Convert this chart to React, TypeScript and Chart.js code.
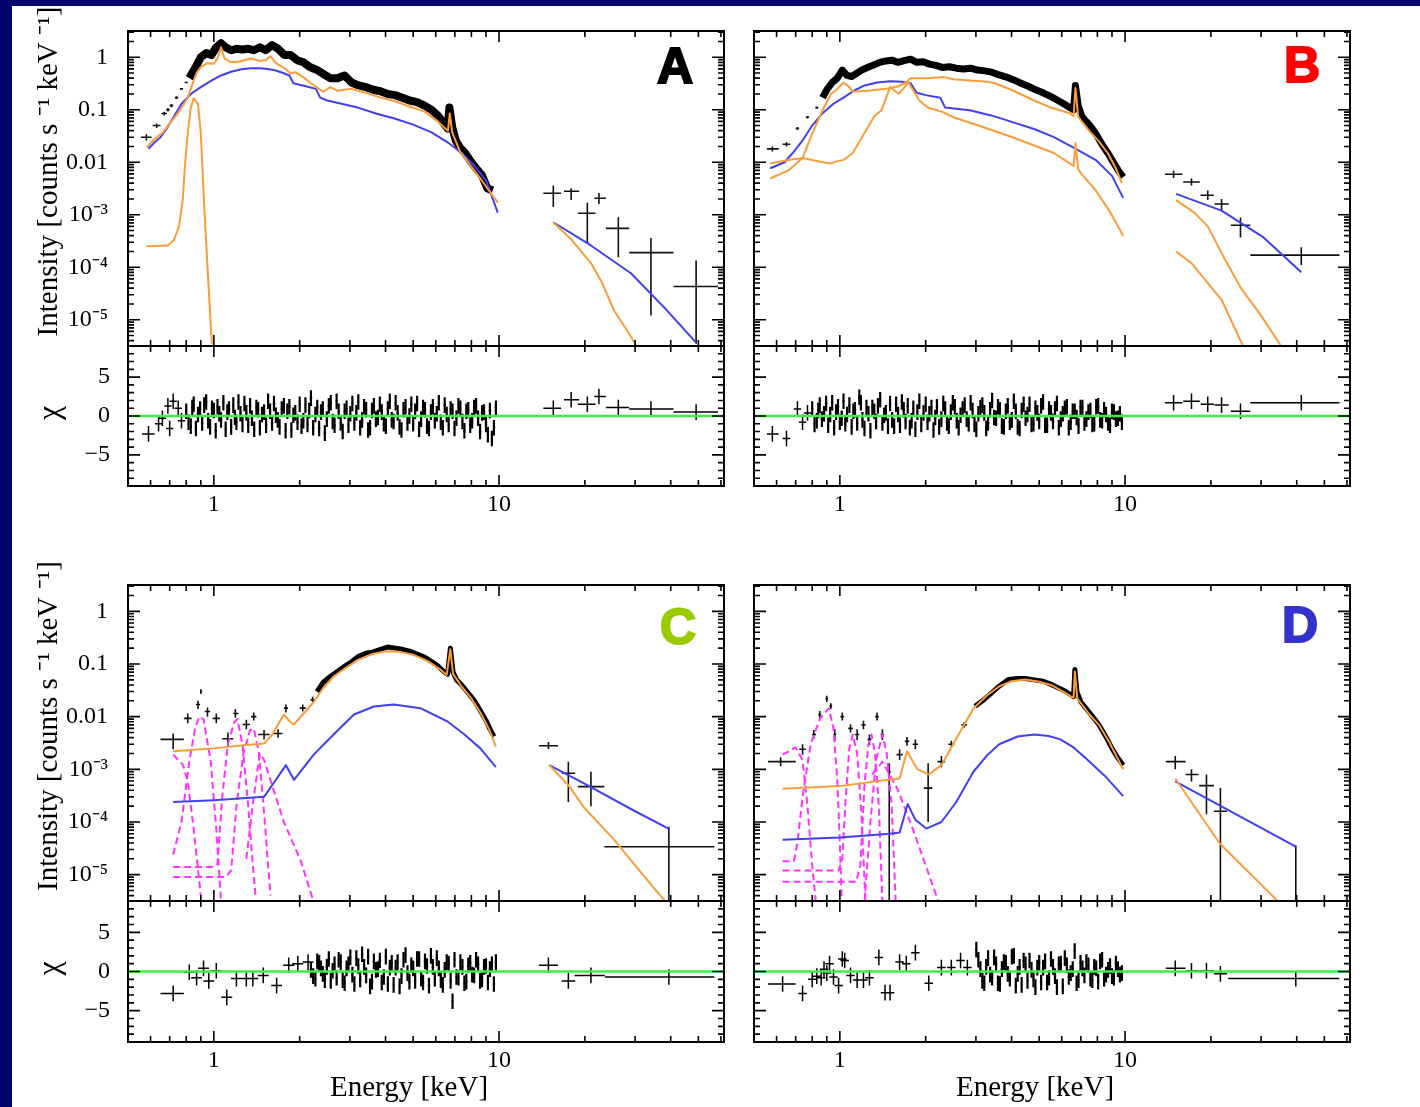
import React, { useEffect, useRef } from "react";
import { Chart, registerables } from "chart.js";
Chart.register(...registerables);

type P = [number, number];

// ---------------- axis definitions ----------------
const X_MIN = 0.5;
const X_MAX = 61.5;
const Y_SPEC_MIN = 3.1623e-6;
const Y_SPEC_MAX = 3.1623;
const Y_RES_MIN = -9;
const Y_RES_MAX = 9;
const X_TICK_VALUES = [1, 10];
const X_TICK_LABELS = ["1", "10"];
const X_MINOR_TICKS = [0.6, 0.7, 0.8, 0.9, 2, 3, 4, 5, 6, 7, 8, 9, 20, 30, 40, 50, 60];
const Y_SPEC_TICK_VALUES = [1, 0.1, 0.01, 1e-3, 1e-4, 1e-5];
const Y_SPEC_TICK_LABELS = ["1", "0.1", "0.01", "10\u207B\u00B3", "10\u207B\u2074", "10\u207B\u2075"];
const Y_RES_TICK_VALUES = [5, 0, -5];
const Y_RES_TICK_LABELS = ["5", "0", "\u22125"];
const Y_TITLE = "Intensity [counts s \u207B\u00B9 keV \u207B\u00B9]";
const X_TITLE = "Energy [keV]";
const ZERO_LINE: P[] = [[0.5, 0], [61.5, 0]];

// energy grids of the densely binned residuals (bin centres)
const DENSE_E = [
  0.80, 0.83, 0.85, 0.88, 0.91, 0.94, 0.97, 1.00, 1.03, 1.06,
  1.10, 1.13, 1.17, 1.20, 1.24, 1.28, 1.32, 1.36, 1.41, 1.45,
  1.50, 1.55, 1.60, 1.65, 1.70, 1.76, 1.81, 1.87, 1.93, 2.00,
  2.06, 2.13, 2.19, 2.27, 2.34, 2.41, 2.49, 2.57, 2.65, 2.74,
  2.83, 2.92, 3.01, 3.11, 3.21, 3.31, 3.42, 3.53, 3.64, 3.76,
  3.88, 4.01, 4.14, 4.27, 4.41, 4.55, 4.70, 4.85, 5.00, 5.16,
  5.33, 5.50, 5.68, 5.86, 6.05, 6.25, 6.45, 6.66, 6.87, 7.09,
  7.32, 7.56, 7.80, 8.05, 8.31, 8.58, 8.86, 9.14, 9.44, 9.75,
];
const DENSE_E_MID = [
  0.815, 0.84, 0.865, 0.895, 0.925, 0.955, 0.985, 1.015, 1.045, 1.08,
  1.115, 1.15, 1.185, 1.22, 1.26, 1.30, 1.34, 1.385, 1.43, 1.475,
  1.525, 1.575, 1.625, 1.675, 1.73, 1.785, 1.84, 1.90, 1.965, 2.03,
  2.095, 2.16, 2.23, 2.305, 2.375, 2.45, 2.53, 2.61, 2.695, 2.785,
  2.875, 2.965, 3.06, 3.16, 3.26, 3.365, 3.475, 3.585, 3.70, 3.82,
  3.945, 4.075, 4.205, 4.34, 4.48, 4.625, 4.775, 4.925, 5.08, 5.245,
  5.415, 5.59, 5.77, 5.955, 6.15, 6.35, 6.555, 6.765, 6.98, 7.205,
  7.44, 7.68, 7.925, 8.18, 8.445, 8.72, 9.0, 9.29, 9.595,
];

// ================= PANEL A =================
const A_SPEC: P[] = [
  [0.82, 0.40], [0.86, 0.62], [0.90, 1.0], [0.94, 1.2], [0.98, 1.1], [1.02, 1.55], [1.06, 1.85], [1.10, 1.55], [1.15, 1.36], [1.20, 1.45],
  [1.26, 1.40], [1.32, 1.45], [1.38, 1.36], [1.45, 1.55], [1.52, 1.36], [1.60, 1.70], [1.68, 1.45], [1.77, 1.10], [1.86, 1.10], [1.96, 0.88],
  [2.06, 0.80], [2.17, 0.65], [2.29, 0.58], [2.42, 0.48], [2.56, 0.40], [2.71, 0.40], [2.87, 0.45], [3.04, 0.33], [3.22, 0.29], [3.41, 0.27],
  [3.62, 0.24], [3.84, 0.225], [4.07, 0.20], [4.32, 0.19], [4.58, 0.17], [4.86, 0.15], [5.16, 0.14], [5.48, 0.12], [5.82, 0.098], [6.10, 0.078],
  [6.40, 0.055], [6.60, 0.044], [6.70, 0.11], [6.85, 0.047], [7.05, 0.026], [7.30, 0.019], [7.60, 0.015], [7.90, 0.011], [8.30, 0.0077], [8.70, 0.0057],
  [9.10, 0.0032], [9.50, 0.0029],
];
const A_LOW_PTS = [
  [0.58, 0.030, 0.555, 0.605, 0.026, 0.034],
  [0.63, 0.050, 0.61, 0.65, 0.045, 0.055],
  [0.67, 0.085, 0.655, 0.685, 0.078, 0.092],
  [0.69, 0.10, 0.68, 0.70, 0.093, 0.108],
  [0.71, 0.12, 0.70, 0.72, 0.112, 0.128],
  [0.74, 0.17, 0.73, 0.75, 0.16, 0.18],
  [0.77, 0.25, 0.76, 0.78, 0.24, 0.26],
  [0.80, 0.33, 0.79, 0.81, 0.32, 0.34],
];
const A_HARD_PTS = [
  [15.5, 2.57e-3, 14.3, 16.5, 1.4e-3, 3.6e-3],
  [17.9, 2.8e-3, 16.9, 19.1, 1.9e-3, 3.2e-3],
  [20.4, 1.07e-3, 18.9, 21.8, 2.9e-4, 1.7e-3],
  [22.4, 2.06e-3, 21.6, 23.7, 1.6e-3, 2.6e-3],
  [26.2, 5.5e-4, 23.7, 28.6, 1.55e-4, 9e-4],
  [34.1, 1.9e-4, 28.6, 40.9, 1.2e-5, 3.6e-4],
  [49.1, 4.3e-5, 40.9, 58.6, 3.5e-6, 1.35e-4],
];
const A_ORANGE: P[] = [
  [0.58, 0.019], [0.62, 0.028], [0.66, 0.036], [0.70, 0.055], [0.74, 0.079], [0.78, 0.12], [0.81, 0.17], [0.84, 0.30], [0.87, 0.50], [0.90, 0.65],
  [0.95, 0.77], [1.00, 0.75], [1.03, 0.95], [1.06, 1.55], [1.09, 0.95], [1.14, 0.82], [1.20, 0.80], [1.28, 0.88], [1.35, 0.95], [1.45, 0.85],
  [1.52, 0.88], [1.58, 1.05], [1.64, 0.80], [1.70, 0.70], [1.77, 0.62], [1.86, 0.49], [1.93, 0.52], [2.00, 0.46], [2.08, 0.40], [2.17, 0.33],
  [2.29, 0.27], [2.42, 0.22], [2.56, 0.27], [2.71, 0.23], [2.87, 0.24], [3.04, 0.25], [3.41, 0.21], [3.84, 0.17], [4.32, 0.145], [4.86, 0.115],
  [5.48, 0.092], [6.10, 0.060], [6.50, 0.043], [6.62, 0.040], [6.72, 0.085], [6.85, 0.037], [7.30, 0.016], [7.90, 0.009], [8.70, 0.0045], [9.50, 0.0023],
  [9.90, 0.0017],
];
const A_ORANGE_LINE: P[] = [
  [0.58, 2.5e-4], [0.69, 2.6e-4], [0.724, 3.3e-4], [0.754, 5.8e-4], [0.778, 1.9e-3], [0.791, 8e-3], [0.81, 0.036], [0.83, 0.11], [0.85, 0.165],
  [0.88, 0.13], [0.90, 0.036], [0.923, 1.9e-3], [0.95, 1e-4], [0.984, 3.5e-6],
];
const A_ORANGE_HARD: P[] = [[15.5, 7.2e-4], [18, 3.3e-4], [21, 1.2e-4], [23, 5e-5], [25.3, 1.5e-5], [28, 6.5e-6], [30.3, 3.2e-6]];
const A_BLUE: P[] = [
  [0.59, 0.018], [0.62, 0.024], [0.65, 0.030], [0.68, 0.042], [0.71, 0.062], [0.77, 0.13], [0.84, 0.21], [0.90, 0.27], [0.98, 0.36], [1.06, 0.45],
  [1.15, 0.53], [1.25, 0.59], [1.35, 0.62], [1.45, 0.62], [1.55, 0.60], [1.65, 0.56], [1.75, 0.50], [1.84, 0.45], [1.90, 0.32], [2.10, 0.28],
  [2.28, 0.25], [2.36, 0.17], [2.50, 0.15], [2.80, 0.13], [3.20, 0.11], [3.70, 0.085], [4.30, 0.068], [5.00, 0.052], [5.80, 0.037], [6.60, 0.024],
  [7.40, 0.015], [8.20, 0.0085], [9.00, 0.0045], [9.90, 0.0011],
];
const A_BLUE_HARD: P[] = [[15.5, 7.2e-4], [21, 2.6e-4], [29, 7.7e-5], [38, 1.7e-5], [49, 3.7e-6]];
const A_RES_LOW = [[0.59, -2.3, 0.56, 0.62], [0.64, -1.0], [0.66, -0.3], [0.69, 1.3], [0.70, -1.6], [0.72, 1.9], [0.75, 1.0], [0.77, -0.6]];
const A_RES_DENSE = [
  0.6, -1.3, 1.5, 0.2, -0.9, 1.8, -1.4, 0.7, 1.2, -0.5,
  -1.7, 0.9, 1.4, -0.8, 0.3, 1.6, -1.2, -0.3, 1.1, -1.5,
  0.5, 1.9, -0.9, 0.1, -1.4, 1.3, 0.6, -1.8, 0.4, 1.5,
  -0.6, -1.1, 2.3, 0.2, -1.6, 0.9, -0.4, 1.7, -1.2, 0.6,
  -2.0, 1.0, 0.3, -0.9, 1.8, -0.5, 0.8, -1.5, 1.3, -0.2,
  0.5, -1.3, 1.9, -0.7, 0.4, -1.8, 1.2, 0.0, -1.0, 1.6,
  -0.4, 0.8, -1.6, 1.2, 0.3, -0.8, 1.4, -1.1, 0.6, -0.3,
  1.0, -1.9, 0.8, -0.6, 1.3, -2.0, 0.5, -2.4, -2.9, 1.0,
];
const A_RES_MID = [
  -0.8, 1.1, -1.6, 0.9, 1.4, -0.6, 1.0, -1.9, 0.3, 1.7,
  0.5, -1.4, -0.2, 1.8, -1.1, 0.4, 1.3, -1.7, 0.8, 0.2,
  -1.2, 0.6, 1.6, -0.5, 0.9, -1.9, 1.2, 0.1, -0.8, -1.3,
  1.4, 0.7, -1.5, 1.1, 0.5, -2.2, 1.3, -0.7, 1.9, -0.9,
  0.6, -1.2, 1.6, 0.4, -1.5, 1.2, -1.8, 0.7, -0.4, 1.5,
  -1.0, 0.9, -0.5, 1.7, -1.4, 0.8, -0.9, 1.5, 0.6, -1.7,
  1.1, -1.3, 0.5, -0.6, 1.7, -1.5, 0.2, 0.9, -1.6, 1.3,
  -0.7, 0.6, -1.2, 1.1, -0.3, 0.4, -1.1, 0.7, -1.5,
];
const A_RES_HARD = [[15.5, 1.0, 14.3, 16.5], [17.9, 2.1, 16.9, 19.1], [20.4, 1.5, 18.9, 21.8], [22.4, 2.5, 21.6, 23.7], [26.2, 1.1, 23.7, 28.6], [34.1, 0.9, 28.6, 40.9], [49.1, 0.5, 40.9, 58.6]];

// ================= PANEL B =================
const B_SPEC: P[] = [
  [0.87, 0.17], [0.90, 0.24], [0.94, 0.33], [0.98, 0.40], [1.02, 0.57], [1.06, 0.45], [1.10, 0.43], [1.15, 0.50], [1.20, 0.58], [1.26, 0.65],
  [1.32, 0.72], [1.38, 0.80], [1.45, 0.85], [1.52, 0.88], [1.60, 0.80], [1.68, 0.86], [1.77, 0.92], [1.86, 0.80], [1.96, 0.82], [2.06, 0.74],
  [2.17, 0.70], [2.29, 0.64], [2.42, 0.66], [2.56, 0.62], [2.71, 0.60], [2.87, 0.62], [3.04, 0.57], [3.22, 0.55], [3.41, 0.52], [3.62, 0.46],
  [3.84, 0.42], [4.07, 0.37], [4.32, 0.32], [4.58, 0.28], [4.86, 0.24], [5.16, 0.21], [5.48, 0.18], [5.82, 0.15], [6.10, 0.13], [6.40, 0.11],
  [6.60, 0.10], [6.70, 0.29], [6.85, 0.12], [7.05, 0.075], [7.30, 0.060], [7.60, 0.047], [7.90, 0.035], [8.30, 0.022], [8.70, 0.015], [9.10, 0.010],
  [9.50, 0.0068], [9.85, 0.0052],
];
const B_LOW_PTS = [
  [0.58, 0.018, 0.555, 0.61, 0.016, 0.020],
  [0.65, 0.022, 0.63, 0.67, 0.020, 0.024],
  [0.71, 0.044, 0.70, 0.72, 0.041, 0.047],
  [0.77, 0.072, 0.76, 0.78, 0.068, 0.076],
  [0.83, 0.11, 0.82, 0.84, 0.105, 0.115],
];
const B_HARD_PTS = [
  [14.8, 5.9e-3, 13.8, 15.9, 5.0e-3, 7.0e-3],
  [17.1, 4.2e-3, 16.0, 18.3, 3.6e-3, 4.9e-3],
  [19.5, 2.35e-3, 18.4, 20.5, 1.9e-3, 2.9e-3],
  [21.8, 1.6e-3, 20.6, 23.1, 1.2e-3, 2.0e-3],
  [25.4, 6.3e-4, 23.5, 27.5, 3.7e-4, 8.9e-4],
  [41.5, 1.7e-4, 27.5, 56.5, 1.1e-4, 2.4e-4],
];
const B_BLUE: P[] = [
  [0.57, 7.7e-3], [0.64, 0.010], [0.69, 0.016], [0.74, 0.026], [0.80, 0.05], [0.87, 0.086], [0.95, 0.13], [1.03, 0.17], [1.12, 0.23], [1.22, 0.29],
  [1.35, 0.33], [1.50, 0.35], [1.65, 0.34], [1.77, 0.32], [1.86, 0.21], [2.00, 0.19], [2.25, 0.17], [2.34, 0.11], [2.85, 0.098], [3.40, 0.078],
  [4.03, 0.058], [4.80, 0.043], [5.63, 0.030], [6.60, 0.019], [7.90, 0.011], [9.00, 0.0055], [9.85, 2.1e-3],
];
const B_BLUE_HARD: P[] = [[15.1, 2.5e-3], [21.8, 1.2e-3], [30.6, 3.7e-4], [41.5, 8e-5]];
const B_ORANGE_1: P[] = [
  [0.57, 4.9e-3], [0.66, 7e-3], [0.74, 0.012], [0.80, 0.035], [0.87, 0.098], [0.93, 0.20], [0.97, 0.235], [1.03, 0.33], [1.08, 0.27], [1.11, 0.22],
  [1.25, 0.23], [1.45, 0.25], [1.60, 0.28], [1.71, 0.33], [1.77, 0.40], [2.03, 0.40], [2.30, 0.42], [2.50, 0.38], [2.85, 0.36], [3.30, 0.34],
  [3.50, 0.32], [4.03, 0.235], [4.80, 0.15], [5.50, 0.11], [6.40, 0.086], [6.60, 0.075], [6.70, 0.26], [6.85, 0.075], [7.00, 0.063], [7.60, 0.036],
  [8.10, 0.025], [8.70, 0.015], [9.30, 0.0075], [9.75, 4e-3],
];
const B_ORANGE_1_HARD: P[] = [[15.1, 1.9e-3], [17.5, 1.1e-3], [19.5, 6e-4], [22, 1.7e-4], [25.5, 4e-5], [30, 1.2e-5], [35.2, 3.2e-6]];
const B_ORANGE_2: P[] = [
  [0.57, 9.5e-3], [0.66, 0.011], [0.74, 0.012], [0.80, 0.011], [0.87, 0.010], [0.93, 0.0095], [0.98, 0.0105], [1.03, 0.011], [1.11, 0.015], [1.22, 0.036],
  [1.32, 0.075], [1.40, 0.098], [1.50, 0.27], [1.61, 0.20], [1.74, 0.33], [1.84, 0.20], [1.90, 0.15], [2.03, 0.11], [2.30, 0.09], [2.50, 0.072],
  [3.06, 0.05], [4.03, 0.03], [5.63, 0.015], [6.40, 0.0095], [6.60, 0.0085], [6.70, 0.023], [6.85, 0.0075], [7.00, 0.0062], [7.90, 0.0029], [8.80, 0.0012],
  [9.85, 4e-4],
];
const B_ORANGE_2_HARD: P[] = [[15.1, 2e-4], [17.1, 1.2e-4], [21.8, 2.4e-5], [25.9, 3.2e-6]];
const B_RES_LOW = [[0.58, -2.3, 0.555, 0.61], [0.65, -2.9, 0.63, 0.67], [0.71, 0.9], [0.74, -0.8], [0.77, 0.4]];
const B_RES_DENSE = [
  0.9, -0.6, 1.4, 0.3, -1.2, 1.7, 0.5, -0.8, 1.9, 0.2,
  -1.4, 0.8, 2.4, -0.5, 1.1, -1.9, 0.6, 1.3, -0.9, 0.4,
  1.6, -1.3, 0.2, 1.8, -0.7, -1.5, 1.0, 0.5, -1.1, 1.5,
  0.3, -1.8, 1.2, -0.4, 0.9, -1.3, 1.7, -0.6, 0.1, 1.4,
  -1.0, 0.7, -1.7, 1.1, 0.4, -0.9, 2.0, -0.3, 0.8, -1.4,
  1.3, -0.5, 0.6, -1.6, 1.5, 0.2, -1.1, 1.0, -0.7, 1.8,
  -1.2, 0.4, 0.9, -1.5, 0.3, 1.2, -0.8, 0.6, -1.3, 1.1,
  -0.4, 0.7, -1.0, 1.3, -0.6, 0.2, -1.2, 0.5, -0.3, -0.8,
];
const B_RES_MID = [
  -1.1, 0.7, -0.4, 1.6, 0.2, -1.5, 1.2, -0.3, -1.0, 1.4,
  0.6, -0.9, 1.7, -1.6, 0.3, 1.1, -0.7, 2.1, 0.1, -1.3,
  -0.5, 1.5, -1.2, 0.8, 1.3, -0.6, -1.7, 1.9, 0.4, -0.8,
  1.1, -0.2, -1.4, 1.6, -0.9, 0.5, 1.2, -1.5, 0.9, -0.4,
  1.7, -1.1, 0.3, 1.4, -1.6, 0.8, -0.2, 1.2, -1.3, 0.6,
  -0.8, 1.9, -1.4, 0.7, -0.3, 1.5, -1.0, 0.4, 1.3, -1.2,
  0.9, -0.7, 1.6, -0.4, 1.0, -1.5, 0.6, -0.2, 1.1, -0.9,
  0.5, -1.1, 1.2, -0.5, 0.8, -0.9, 0.6, -0.4, 0.3,
];
const B_RES_HARD = [[14.8, 1.7, 13.8, 15.9], [17.1, 1.9, 16.0, 18.3], [19.5, 1.5, 18.4, 20.5], [21.8, 1.4, 20.6, 23.1], [25.4, 0.6, 23.5, 27.5], [41.5, 1.7, 27.5, 56.5]];

// ================= PANEL C =================
const C_SPEC: P[] = [
  [2.30, 0.030], [2.42, 0.045], [2.56, 0.058], [2.71, 0.072], [2.87, 0.090], [3.04, 0.11], [3.22, 0.14], [3.41, 0.16], [3.62, 0.17], [3.84, 0.19],
  [4.07, 0.21], [4.32, 0.20], [4.58, 0.19], [4.86, 0.175], [5.16, 0.155], [5.48, 0.135], [5.82, 0.11], [6.10, 0.092], [6.40, 0.072], [6.60, 0.064],
  [6.75, 0.20], [6.90, 0.070], [7.10, 0.050], [7.40, 0.040], [7.80, 0.028], [8.20, 0.020], [8.60, 0.013], [9.00, 0.0085], [9.30, 0.0058], [9.60, 0.0042],
];
const C_LOW_PTS = [
  [0.72, 3.7e-3, 0.65, 0.785, 2.4e-3, 4.8e-3],
  [0.81, 9.3e-3, 0.785, 0.835, 7.5e-3, 1.15e-2],
  [0.88, 0.017, 0.865, 0.895, 0.014, 0.020],
  [0.90, 0.030, 0.895, 0.91, 0.027, 0.033],
  [0.95, 0.0125, 0.93, 0.97, 0.010, 0.015],
  [1.02, 0.0093, 0.99, 1.05, 0.0075, 0.0115],
  [1.12, 0.0038, 1.07, 1.17, 0.0028, 0.0050],
  [1.19, 0.0115, 1.17, 1.22, 0.0095, 0.014],
  [1.30, 0.0071, 1.26, 1.34, 0.0058, 0.0087],
  [1.38, 0.010, 1.35, 1.41, 0.0085, 0.012],
  [1.50, 0.0046, 1.43, 1.57, 0.0037, 0.0056],
  [1.68, 0.0048, 1.62, 1.74, 0.0040, 0.0058],
  [1.79, 0.0145, 1.76, 1.82, 0.012, 0.017],
  [2.05, 0.0145, 2.0, 2.1, 0.0125, 0.017],
  [2.22, 0.021, 2.18, 2.26, 0.019, 0.024],
];
const C_HARD_PTS = [
  [14.9, 2.8e-3, 13.8, 16.1, 2.4e-3, 3.3e-3],
  [17.5, 8.4e-4, 16.6, 18.5, 2.4e-4, 1.4e-3],
  [21.0, 4.7e-4, 18.9, 23.4, 2.0e-4, 9.0e-4],
  [39.4, 3.4e-5, 23.4, 56.9, 1e-7, 8.1e-5],
];
const C_ORANGE: P[] = [
  [0.72, 2.2e-3], [1.0, 2.5e-3], [1.3, 2.9e-3], [1.5, 3.1e-3], [1.6, 4.5e-3], [1.76, 0.011], [1.85, 8e-3], [1.91, 7.1e-3], [2.05, 0.011], [2.24, 0.019],
  [2.42, 0.035], [2.63, 0.058], [2.9, 0.085], [3.2, 0.12], [3.6, 0.155], [4.0, 0.175], [4.5, 0.17], [5.0, 0.15], [5.6, 0.115], [6.2, 0.080],
  [6.55, 0.062], [6.75, 0.19], [6.9, 0.065], [7.4, 0.037], [8.0, 0.022], [8.6, 0.012], [9.2, 0.0060], [9.75, 0.0027],
];
const C_ORANGE_HARD: P[] = [[15, 1.2e-3], [17.5, 5e-4], [20, 1.8e-4], [25, 5e-5], [30, 1.5e-5], [35, 5.5e-6], [39, 2.8e-6]];
const C_BLUE: P[] = [
  [0.72, 2.4e-4], [1.0, 2.6e-4], [1.5, 3e-4], [1.79, 1.2e-3], [1.91, 6.3e-4], [2.24, 1.9e-3], [2.63, 4.6e-3], [3.1, 0.011], [3.64, 0.0156], [4.28, 0.017],
  [5.3, 0.0145], [6.6, 8.1e-3], [7.6, 4.5e-3], [8.6, 2.5e-3], [9.75, 1.1e-3],
];
const C_BLUE_HARD: P[] = [[15, 1.2e-3], [20, 5.3e-4], [30, 1.6e-4], [39.6, 7.3e-5]];
const C_LINE_1: P[] = [[0.72, 1.9e-3], [0.78, 1.2e-3], [0.81, 5.9e-4], [0.85, 7.4e-5], [0.90, 4e-6]];
const C_LINE_2: P[] = [[0.72, 2.4e-5], [0.77, 1e-4], [0.82, 1.4e-3], [0.86, 6e-3], [0.89, 0.01], [0.92, 9e-3], [0.975, 1.4e-3], [1.02, 7.4e-5], [1.06, 3e-6]];
const C_LINE_3: P[] = [[0.72, 1.4e-5], [1.0, 1.4e-5], [1.03, 1.6e-5], [1.07, 3e-4], [1.12, 3e-3], [1.18, 8e-3], [1.21, 9e-3], [1.26, 3e-3], [1.32, 2e-4], [1.37, 1.5e-5], [1.40, 4e-6]];
const C_LINE_4: P[] = [[0.72, 9e-6], [1.1, 9e-6], [1.15, 1.2e-5], [1.2, 2e-4], [1.27, 2e-3], [1.34, 5.5e-3], [1.38, 6e-3], [1.44, 2e-3], [1.5, 1.5e-4], [1.55, 1.5e-5], [1.58, 4e-6]];
const C_LINE_5: P[] = [[1.3, 2e-5], [1.38, 3e-4], [1.45, 2e-3], [1.5, 1.5e-3], [1.6, 5e-4], [1.76, 1e-4], [2.02, 1.8e-5], [2.24, 3e-6]];
const C_RES_LOW = [
  [0.72, -2.8, 0.65, 0.785], [0.82, -0.1], [0.87, -0.8], [0.92, 0.4], [0.96, -1.2], [1.02, 0.1], [1.11, -3.3], [1.20, -0.9],
  [1.30, -0.9], [1.37, -0.9], [1.49, -0.5], [1.66, -1.8], [1.83, 0.8], [1.97, 1.0], [2.14, 1.2],
];
const C_RES_DENSE_START = 32;
const C_RES_DENSE = [
  0.2, -0.9, 1.1, -0.3, 0.6, -1.2, 0.9, 1.5,
  -1.1, 0.4, 1.8, -1.6, 0.7, 2.2, -0.5, -1.9, 1.3, 0.3,
  -1.4, 1.9, 0.5, -1.7, 1.2, -0.6, 2.1, -1.3, 0.4, 1.6,
  -0.9, 1.3, -1.8, 0.6, 1.7, -1.1, 0.2, 1.0, -3.8, -0.7,
  1.2, -1.5, 0.8, -0.4, 1.5, -1.2, 0.6, -1.4, 0.9, 1.2,
];
const C_RES_MID = [
  -0.6, 1.3, 0.4, -1.1, 1.6, 0.1, -0.8,
  1.2, -1.5, 0.9, -0.4, 1.7, -1.0, 0.6, 1.9, -1.3, 0.2,
  1.4, -0.7, -1.6, 1.1, 0.5, -1.9, 1.5, -0.2, 0.8, -1.2,
  1.6, -1.4, 0.7, 2.0, -0.9, 0.4, -1.7, 1.2, -1.2, 1.5,
  -0.8, 0.6, -1.3, 1.1, -0.5, 0.9, -1.0, 0.7, 0.3, -1.6,
];
const C_RES_HARD = [[14.9, 0.8, 13.8, 16.1], [17.5, -1.2, 16.6, 18.5], [21.0, -0.5, 18.4, 23.5], [39.4, -0.7, 23.5, 56.9]];

// ================= PANEL D =================
const D_SPEC: P[] = [
  [2.98, 0.0157], [3.2, 0.021], [3.4, 0.028], [3.6, 0.037], [3.9, 0.051], [4.2, 0.053], [4.47, 0.053], [4.8, 0.050], [5.17, 0.047], [5.5, 0.041],
  [5.93, 0.034], [6.2, 0.030], [6.47, 0.026], [6.6, 0.024], [6.67, 0.079], [6.78, 0.030], [7.0, 0.019], [7.3, 0.0144], [7.7, 0.010], [8.1, 0.007],
  [8.5, 0.0045], [9.0, 0.0025], [9.4, 0.0017], [9.85, 0.0012],
];
const D_LOW_PTS = [
  [0.62, 1.4e-3, 0.56, 0.70, 1.15e-3, 1.7e-3],
  [0.74, 2.4e-3, 0.72, 0.76, 1.9e-3, 3.0e-3],
  [0.81, 4.6e-3, 0.80, 0.825, 3.8e-3, 5.6e-3],
  [0.85, 0.011, 0.84, 0.86, 0.0095, 0.0128],
  [0.90, 0.022, 0.89, 0.91, 0.019, 0.025],
  [0.93, 0.016, 0.92, 0.94, 0.014, 0.018],
  [0.96, 4.6e-3, 0.95, 0.97, 3.5e-3, 5.8e-3],
  [1.02, 0.010, 1.005, 1.035, 0.0085, 0.012],
  [1.09, 6e-3, 1.07, 1.11, 5e-3, 7.2e-3],
  [1.15, 4.6e-3, 1.13, 1.17, 3.6e-3, 5.8e-3],
  [1.21, 7e-3, 1.19, 1.23, 5.8e-3, 8.4e-3],
  [1.27, 3.7e-3, 1.25, 1.29, 2.9e-3, 4.6e-3],
  [1.35, 0.010, 1.33, 1.37, 0.0085, 0.012],
  [1.41, 4.6e-3, 1.39, 1.43, 3.6e-3, 5.8e-3],
  [1.49, 9e-4, 1.47, 1.51, 1e-7, 1.3e-3],
  [1.62, 1.9e-3, 1.58, 1.66, 1.5e-3, 2.4e-3],
  [1.72, 3.4e-3, 1.69, 1.75, 2.8e-3, 4.1e-3],
  [1.84, 3.0e-3, 1.80, 1.88, 2.4e-3, 3.7e-3],
  [2.04, 4.4e-4, 1.97, 2.11, 1.0e-4, 1.3e-3],
  [2.27, 1.4e-3, 2.20, 2.34, 1.1e-3, 1.8e-3],
  [2.46, 3.0e-3, 2.40, 2.52, 2.6e-3, 3.5e-3],
  [2.73, 7.0e-3, 2.67, 2.79, 6.2e-3, 7.9e-3],
];
const D_HARD_PTS = [
  [15.0, 1.4e-3, 13.9, 16.3, 1.0e-3, 1.8e-3],
  [17.1, 8e-4, 16.3, 18.1, 5.9e-4, 1.0e-3],
  [19.3, 4.9e-4, 18.2, 20.5, 1.4e-4, 8e-4],
  [21.6, 1.6e-4, 20.5, 22.8, 1e-7, 4.4e-4],
  [39.7, 2e-6, 23.0, 56.4, 1e-7, 3.6e-5],
];
const D_ORANGE: P[] = [
  [0.63, 4.3e-4], [1.0, 4.8e-4], [1.5, 6.4e-4], [1.62, 6.7e-4], [1.72, 2.2e-3], [1.87, 1.0e-3], [2.05, 8e-4], [2.27, 1.2e-3], [2.56, 3.8e-3], [2.94, 0.0143],
  [3.3, 0.026], [3.62, 0.0375], [4.0, 0.047], [4.47, 0.051], [5.0, 0.046], [5.5, 0.040], [6.0, 0.031], [6.47, 0.024], [6.6, 0.023], [6.67, 0.072],
  [6.8, 0.022], [7.0, 0.018], [7.5, 0.011], [8.1, 0.007], [8.8, 0.0033], [9.85, 0.0010],
];
const D_ORANGE_HARD: P[] = [[15, 6.7e-4], [21.5, 3.9e-5], [34.4, 3.1e-6]];
const D_BLUE: P[] = [
  [0.63, 4.6e-5], [1.0, 5.1e-5], [1.5, 6e-5], [1.62, 6.3e-5], [1.73, 2.2e-4], [1.84, 1.1e-4], [2.01, 7.5e-5], [2.27, 1.0e-4], [2.56, 2.4e-4], [2.94, 9e-4],
  [3.3, 1.9e-3], [3.62, 3e-3], [4.2, 4.2e-3], [4.8, 4.6e-3], [5.4, 4.3e-3], [5.93, 3.7e-3], [6.6, 2.6e-3], [7.3, 1.6e-3], [8.5, 7.5e-4], [9.85, 3.1e-4],
];
const D_BLUE_HARD: P[] = [[15, 5.9e-4], [39.7, 3.4e-5]];
const D_LINE_1: P[] = [[0.63, 1.9e-3], [0.70, 2.6e-3], [0.74, 1.5e-3], [0.77, 2e-4], [0.80, 1.5e-5], [0.824, 3e-6]];
const D_LINE_2: P[] = [[0.63, 1.8e-5], [0.69, 1.8e-5], [0.71, 4e-5], [0.74, 3e-4], [0.79, 3e-3], [0.85, 0.009], [0.915, 0.0144], [0.95, 0.006], [0.98, 6e-4], [1.0, 4e-5], [1.016, 3e-6]];
const D_LINE_3: P[] = [[0.63, 1.2e-5], [0.99, 1.2e-5], [1.02, 2e-5], [1.05, 3.3e-4], [1.08, 2.5e-3], [1.11, 4.6e-3], [1.15, 2e-3], [1.19, 1.5e-4], [1.23, 3e-6]];
const D_LINE_4: P[] = [[0.63, 7.3e-6], [1.14, 7.3e-6], [1.18, 1.5e-5], [1.22, 5e-4], [1.26, 3e-3], [1.29, 4.6e-3], [1.33, 2e-3], [1.37, 2e-4], [1.41, 3e-6]];
const D_LINE_5: P[] = [[1.22, 3e-6], [1.28, 1e-4], [1.34, 1.5e-3], [1.41, 4.6e-3], [1.46, 2e-3], [1.52, 2e-4], [1.57, 3e-6]];
const D_LINE_6: P[] = [[1.30, 8e-4], [1.41, 1.4e-3], [1.6, 4e-4], [1.8, 7.5e-5], [2.0, 1.5e-5], [2.22, 3e-6]];
const D_RES_LOW = [
  [0.63, -1.6, 0.56, 0.70], [0.74, -2.8], [0.80, -1.0], [0.83, -0.6], [0.86, -0.8], [0.88, 0.3], [0.90, -0.2], [0.92, 1.0], [0.95, -0.7],
  [0.99, -1.8], [1.02, 1.6], [1.04, 1.4], [1.09, -0.5], [1.15, -1.1], [1.21, -1.1], [1.27, -0.8], [1.37, 1.8], [1.44, -2.7],
  [1.50, -2.7], [1.62, 1.2], [1.71, 1.0], [1.84, 2.4], [2.05, -1.5], [2.27, 0.5], [2.46, 0.5], [2.65, 1.4], [2.80, 0.5],
];
const D_RES_DENSE_START = 42;
const D_RES_DENSE = [
  2.8, 0.3, -1.5, 1.7, -0.8, 0.9, -1.6, 1.2,
  -0.3, 1.9, -1.8, 0.6, 1.4, -1.2, 0.2, -2.0, 1.1, 0.5,
  -1.4, 1.6, -0.6, 0.9, -1.9, 0.8, -0.2, 2.6, -1.1, 0.4,
  1.2, -0.9, 0.6, -1.3, 1.5, -0.4, 0.7, -0.8, 0.3, -0.2,
];
const D_RES_MID = [
  1.5, -1.2, 0.6, -0.4, 1.8, -1.5, 0.3,
  1.1, -0.9, 2.0, -0.3, -1.7, 0.9, 1.4, -1.0, 0.5, -1.4,
  1.3, -0.8, 0.6, -2.0, 1.0, 1.7, -0.7, 0.3, -1.5, 1.1,
  -0.5, 0.8, -1.1, 0.4, 1.3, -0.9, 0.2, -0.6, 1.0, -0.4,
];
const D_RES_HARD = [[15.0, 0.4, 13.9, 16.3], [17.1, 0.1, 16.3, 18.1], [19.3, 0.1, 18.2, 20.5], [21.6, -0.3, 20.5, 22.8], [39.7, -0.9, 23.0, 56.4]];

// ---------------- styling ----------------
const NAVY = "#03036f";
const ORANGE = "#f99d3c";
const BLUE = "#4040f2";
const MAGENTA = "#ff33ff";
const GREEN = "#3fee3f";
const BLACK = "#000000";
const SERIF = "'Liberation Serif', 'Times New Roman', serif";
const SANS = "'Liberation Sans', Arial, sans-serif";
const PT_SPEC = 30;
const PT_RES = 6;
const PR = 8;
const YW = 116;
const XH_SPEC = 4;
const XH_RES = 64;

// ---------------- dataset helpers ----------------
const line = (pts: P[], color: string, width: number, order: number, dash: number[] = []) => ({
  data: pts.map(([x, y]) => ({ x, y })),
  showLine: true,
  borderColor: color,
  backgroundColor: color,
  borderWidth: width,
  borderDash: dash,
  borderJoinStyle: "round",
  pointRadius: 0,
  pointHoverRadius: 0,
  tension: 0,
  fill: false,
  order,
});
const specBars = (pts: number[][], order = 8) => ({
  data: pts.map(([x, y, xl, xh, yl, yh]) => ({ x, y, xl, xh, yl, yh })),
  showLine: false,
  pointRadius: 0,
  pointHoverRadius: 0,
  eb: true,
  ebColor: "#111",
  ebWidth: 1.6,
  order,
});
const resBars = (pts: number[][], f = 1.045, w = 1.5) => ({
  data: pts.map((p) => {
    const [x, y] = p;
    const xl = p.length > 2 ? p[2] : x / f;
    const xh = p.length > 3 ? p[3] : x * f;
    return { x, y, xl, xh, yl: y - 1, yh: y + 1 };
  }),
  showLine: false,
  pointRadius: 0,
  pointHoverRadius: 0,
  eb: true,
  ebColor: "#000",
  ebWidth: w,
  order: 8,
});
const dense = (grid: number[], start: number, chi: number[]) =>
  chi.filter((_, i) => start + i < grid.length).map((c, i) => [grid[start + i], c]);

const specData = (pts: P[], w: number) => line(pts, BLACK, w, 9);
const zero = () => line(ZERO_LINE, GREEN, 2.5, 0);
const dashM = (pts: P[]) => line(pts, MAGENTA, 2, 3, [7, 4]);

interface Sub {
  id: string;
  kind: "spec" | "res";
  L: number;
  T: number;
  R: number;
  B: number;
  yLabels: boolean;
  xLabels: boolean;
  yTitle?: string;
  chi?: boolean;
  xTitle?: string;
  letter?: { text: string; color: string; x: number; y: number };
  datasets: any[];
}

const SUBS: Sub[] = [
  {
    id: "As", kind: "spec", L: 128, T: 31, R: 724, B: 346, yLabels: true, xLabels: false, yTitle: Y_TITLE,
    letter: { text: "A", color: "#000000", x: 675, y: 65 },
    datasets: [
      line(A_ORANGE, ORANGE, 2, 1), line(A_ORANGE_LINE, ORANGE, 2, 1), line(A_ORANGE_HARD, ORANGE, 2, 1),
      line(A_BLUE, BLUE, 2, 2), line(A_BLUE_HARD, BLUE, 2, 2),
      specData(A_SPEC, 8), specBars(A_LOW_PTS), specBars(A_HARD_PTS),
    ],
  },
  {
    id: "Ar", kind: "res", L: 128, T: 346, R: 724, B: 486, yLabels: true, xLabels: true, chi: true,
    datasets: [
      zero(), resBars(A_RES_LOW, 1.03),
      resBars(dense(DENSE_E, 0, A_RES_DENSE), 1.01, 2.2), resBars(dense(DENSE_E_MID, 0, A_RES_MID), 1.01, 2.2),
      resBars(A_RES_HARD),
    ],
  },
  {
    id: "Bs", kind: "spec", L: 754, T: 31, R: 1350, B: 346, yLabels: false, xLabels: false,
    letter: { text: "B", color: "#ff0000", x: 1302, y: 64 },
    datasets: [
      line(B_ORANGE_1, ORANGE, 2, 1), line(B_ORANGE_1_HARD, ORANGE, 2, 1),
      line(B_ORANGE_2, ORANGE, 2, 1), line(B_ORANGE_2_HARD, ORANGE, 2, 1),
      line(B_BLUE, BLUE, 2, 2), line(B_BLUE_HARD, BLUE, 2, 2),
      specData(B_SPEC, 7), specBars(B_LOW_PTS), specBars(B_HARD_PTS),
    ],
  },
  {
    id: "Br", kind: "res", L: 754, T: 346, R: 1350, B: 486, yLabels: false, xLabels: true,
    datasets: [
      zero(), resBars(B_RES_LOW, 1.03),
      resBars(dense(DENSE_E, 0, B_RES_DENSE), 1.01, 2.2), resBars(dense(DENSE_E_MID, 0, B_RES_MID), 1.01, 2.2),
      resBars(B_RES_HARD),
    ],
  },
  {
    id: "Cs", kind: "spec", L: 128, T: 585, R: 724, B: 901, yLabels: true, xLabels: false, yTitle: Y_TITLE,
    letter: { text: "C", color: "#99cc00", x: 678, y: 626 },
    datasets: [
      line(C_ORANGE, ORANGE, 2, 1), line(C_ORANGE_HARD, ORANGE, 2, 1),
      line(C_BLUE, BLUE, 2, 2), line(C_BLUE_HARD, BLUE, 2, 2),
      dashM(C_LINE_1), dashM(C_LINE_2), dashM(C_LINE_3), dashM(C_LINE_4), dashM(C_LINE_5),
      specData(C_SPEC, 5), specBars(C_LOW_PTS), specBars(C_HARD_PTS),
    ],
  },
  {
    id: "Cr", kind: "res", L: 128, T: 901, R: 724, B: 1042, yLabels: true, xLabels: true, chi: true, xTitle: X_TITLE,
    datasets: [
      zero(), resBars(C_RES_LOW),
      resBars(dense(DENSE_E, C_RES_DENSE_START, C_RES_DENSE), 1.01, 2.2), resBars(dense(DENSE_E_MID, C_RES_DENSE_START, C_RES_MID), 1.01, 2.2),
      resBars(C_RES_HARD),
    ],
  },
  {
    id: "Ds", kind: "spec", L: 754, T: 585, R: 1350, B: 901, yLabels: false, xLabels: false,
    letter: { text: "D", color: "#3333cc", x: 1300, y: 624 },
    datasets: [
      line(D_ORANGE, ORANGE, 2, 1), line(D_ORANGE_HARD, ORANGE, 2, 1),
      line(D_BLUE, BLUE, 2, 2), line(D_BLUE_HARD, BLUE, 2, 2),
      dashM(D_LINE_1), dashM(D_LINE_2), dashM(D_LINE_3), dashM(D_LINE_4), dashM(D_LINE_5), dashM(D_LINE_6),
      specData(D_SPEC, 5), specBars(D_LOW_PTS), specBars(D_HARD_PTS),
    ],
  },
  {
    id: "Dr", kind: "res", L: 754, T: 901, R: 1350, B: 1042, yLabels: false, xLabels: true, xTitle: X_TITLE,
    datasets: [
      zero(), resBars(D_RES_LOW, 1.035),
      resBars(dense(DENSE_E, D_RES_DENSE_START, D_RES_DENSE), 1.01, 2.2), resBars(dense(DENSE_E_MID, D_RES_DENSE_START, D_RES_MID), 1.01, 2.2),
      resBars(D_RES_HARD),
    ],
  },
];

const geom = (sp: Sub) => {
  const xh = sp.kind === "spec" ? XH_SPEC : XH_RES;
  const pt = sp.kind === "spec" ? PT_SPEC : PT_RES;
  return { cx: sp.L - YW, cy: sp.T - pt, cw: YW + (sp.R - sp.L) + PR, ch: pt + (sp.B - sp.T) + xh, xh, pt };
};

// ---------------- plugins ----------------
const errorBarPlugin = {
  id: "errbars",
  beforeDatasetsDraw(chart: any) {
    const { ctx, chartArea: a } = chart;
    const xs = chart.scales.x;
    const ys = chart.scales.y;
    ctx.save();
    ctx.beginPath();
    ctx.rect(a.left, a.top, a.right - a.left, a.bottom - a.top);
    ctx.clip();
    chart.data.datasets.forEach((ds: any) => {
      if (!ds.eb) return;
      ctx.strokeStyle = ds.ebColor;
      ctx.lineWidth = ds.ebWidth;
      ctx.beginPath();
      for (const p of ds.data) {
        const px = xs.getPixelForValue(p.x);
        const py = ys.getPixelForValue(p.y);
        ctx.moveTo(xs.getPixelForValue(p.xl), py);
        ctx.lineTo(xs.getPixelForValue(p.xh), py);
        ctx.moveTo(px, ys.getPixelForValue(p.yl));
        ctx.lineTo(px, ys.getPixelForValue(p.yh));
      }
      ctx.stroke();
    });
    ctx.restore();
  },
};

function makeDeco(sp: Sub) {
  const g = geom(sp);
  return {
    id: "deco" + sp.id,
    afterDatasetsDraw(chart: any) {
      const { ctx, chartArea: a } = chart;
      const xs = chart.scales.x;
      const ys = chart.scales.y;
      ctx.save();
      ctx.strokeStyle = "#000";
      ctx.lineWidth = 1.6;
      ctx.beginPath();
      const xt = (v: number, len: number) => {
        const p = xs.getPixelForValue(v);
        ctx.moveTo(p, a.bottom);
        ctx.lineTo(p, a.bottom - len);
        ctx.moveTo(p, a.top);
        ctx.lineTo(p, a.top + len);
      };
      const yt = (v: number, len: number) => {
        const p = ys.getPixelForValue(v);
        ctx.moveTo(a.left, p);
        ctx.lineTo(a.left + len, p);
        ctx.moveTo(a.right, p);
        ctx.lineTo(a.right - len, p);
      };
      X_TICK_VALUES.forEach((v) => xt(v, 11));
      X_MINOR_TICKS.forEach((v) => xt(v, 6));
      if (sp.kind === "spec") {
        Y_SPEC_TICK_VALUES.forEach((v) => yt(v, 12));
        for (let d = -6; d <= 0; d++) {
          for (let m = 2; m <= 9; m++) {
            const v = m * Math.pow(10, d);
            if (v > Y_SPEC_MIN && v < Y_SPEC_MAX) yt(v, 6);
          }
        }
      } else {
        Y_RES_TICK_VALUES.forEach((v) => yt(v, 12));
        for (let v = -8; v <= 8; v++) if (v % 5 !== 0) yt(v, 6);
      }
      ctx.stroke();
      ctx.lineWidth = 2;
      ctx.strokeRect(a.left, a.top, a.right - a.left, a.bottom - a.top);
      ctx.restore();
    },
    afterDraw(chart: any) {
      const { ctx } = chart;
      ctx.save();
      ctx.fillStyle = "#000";
      if (sp.yTitle) {
        ctx.save();
        ctx.translate(49 - g.cx, (sp.T + sp.B) / 2 - 17 - g.cy);
        ctx.rotate(-Math.PI / 2);
        ctx.textAlign = "center";
        ctx.textBaseline = "middle";
        ctx.font = `29px ${SERIF}`;
        ctx.fillText(sp.yTitle, 0, 0);
        ctx.restore();
      }
      if (sp.chi) {
        ctx.save();
        ctx.translate(51 - g.cx, (sp.T + sp.B) / 2 - 3 - g.cy);
        ctx.rotate(-Math.PI / 2);
        ctx.textAlign = "center";
        ctx.textBaseline = "middle";
        ctx.font = `32px ${SERIF}`;
        ctx.fillText("\u03C7", 0, 0);
        ctx.restore();
      }
      if (sp.xTitle) {
        ctx.textAlign = "center";
        ctx.textBaseline = "middle";
        ctx.font = `29px ${SERIF}`;
        ctx.fillText(sp.xTitle, (sp.L + sp.R) / 2 - 17 - g.cx, sp.B + 46 - g.cy);
      }
      if (sp.letter) {
        ctx.textAlign = "center";
        ctx.textBaseline = "alphabetic";
        ctx.font = `bold 50px ${SANS}`;
        ctx.fillStyle = sp.letter.color;
        ctx.strokeStyle = sp.letter.color;
        ctx.lineWidth = 2;
        ctx.fillText(sp.letter.text, sp.letter.x - g.cx, sp.letter.y + 18 - g.cy);
        ctx.strokeText(sp.letter.text, sp.letter.x - g.cx, sp.letter.y + 18 - g.cy);
      }
      ctx.restore();
    },
  };
}

function buildConfig(sp: Sub): any {
  const isSpec = sp.kind === "spec";
  const g = geom(sp);
  const yVals = isSpec ? Y_SPEC_TICK_VALUES : Y_RES_TICK_VALUES;
  const yLabs = isSpec ? Y_SPEC_TICK_LABELS : Y_RES_TICK_LABELS;
  return {
    type: "scatter",
    data: { datasets: sp.datasets },
    options: {
      responsive: false,
      maintainAspectRatio: false,
      animation: false,
      events: [],
      layout: { padding: { top: g.pt, right: PR, left: 0, bottom: 0 } },
      plugins: { legend: { display: false }, tooltip: { enabled: false }, title: { display: false } },
      scales: {
        x: {
          type: "logarithmic",
          min: X_MIN,
          max: X_MAX,
          grid: { display: false, drawTicks: false },
          border: { display: false },
          ticks: {
            display: sp.xLabels,
            color: "#000",
            font: { family: SERIF, size: 24 },
            padding: 4,
            maxRotation: 0,
            autoSkip: false,
            callback: (v: any) => {
              const i = X_TICK_VALUES.indexOf(Number(v));
              return i >= 0 ? X_TICK_LABELS[i] : "";
            },
          },
          afterBuildTicks: (s: any) => {
            s.ticks = X_TICK_VALUES.map((value) => ({ value }));
          },
          afterFit: (s: any) => {
            s.height = g.xh;
            s.paddingLeft = 0;
            s.paddingRight = 0;
            s.paddingTop = 0;
            s.paddingBottom = 0;
          },
        },
        y: {
          type: isSpec ? "logarithmic" : "linear",
          position: "left",
          min: isSpec ? Y_SPEC_MIN : Y_RES_MIN,
          max: isSpec ? Y_SPEC_MAX : Y_RES_MAX,
          grid: { display: false, drawTicks: false },
          border: { display: false },
          ticks: {
            display: sp.yLabels,
            color: "#000",
            font: { family: SERIF, size: 24 },
            padding: isSpec ? 20 : 18,
            autoSkip: false,
            callback: (v: any) => {
              const i = yVals.indexOf(Number(v));
              return i >= 0 ? yLabs[i] : "";
            },
          },
          afterBuildTicks: (s: any) => {
            s.ticks = yVals.map((value) => ({ value }));
          },
          afterFit: (s: any) => {
            s.width = YW;
            s.paddingTop = 0;
            s.paddingBottom = 0;
            s.paddingLeft = 0;
            s.paddingRight = 0;
          },
        },
      },
    },
    plugins: [errorBarPlugin, makeDeco(sp)],
  };
}

export default function App() {
  const refs = useRef<(HTMLCanvasElement | null)[]>([]);
  useEffect(() => {
    const charts = SUBS.map((sp, i) => new Chart(refs.current[i] as HTMLCanvasElement, buildConfig(sp)));
    return () => charts.forEach((c) => c.destroy());
  }, []);
  return (
    <div style={{ position: "absolute", left: 0, top: 0, width: 1420, height: 1107, background: NAVY, overflow: "hidden" }}>
      <div style={{ position: "absolute", left: 12, top: 6, width: 1408, height: 1101, background: "#ffffff" }} />
      {SUBS.map((sp, i) => {
        const g = geom(sp);
        return (
          <canvas
            key={sp.id}
            ref={(el) => {
              refs.current[i] = el;
            }}
            width={g.cw}
            height={g.ch}
            style={{ position: "absolute", left: g.cx, top: g.cy, width: g.cw, height: g.ch }}
          />
        );
      })}
    </div>
  );
}
